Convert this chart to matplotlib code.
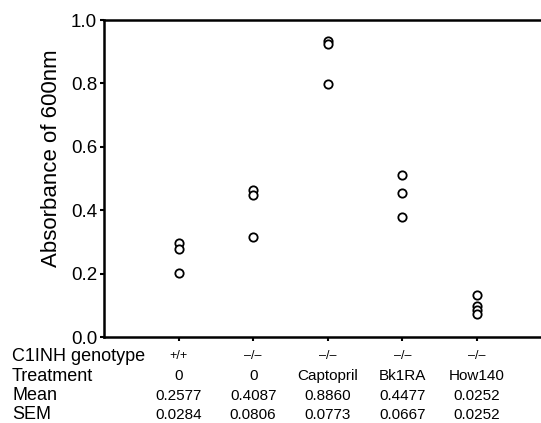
import matplotlib
matplotlib.use("Agg")
import matplotlib.pyplot as plt

plt.rcParams['font.family'] = ['Liberation Sans', 'DejaVu Sans']

# groups / table rows
genotype = ['+/+', '\u2013/\u2013', '\u2013/\u2013', '\u2013/\u2013', '\u2013/\u2013']
treatment = ['0', '0', 'Captopril', 'Bk1RA', 'How140']
mean = ['0.2577', '0.4087', '0.8860', '0.4477', '0.0252']
sem = ['0.0284', '0.0806', '0.0773', '0.0667', '0.0252']

# individual absorbance readings per group
g1 = [0.295, 0.277, 0.203]
g2 = [0.463, 0.448, 0.317]
g3 = [0.935, 0.925, 0.797]
g4 = [0.510, 0.454, 0.377]
g5 = [0.134, 0.097, 0.085, 0.074]
groups = [g1, g2, g3, g4, g5]

fig = plt.figure(figsize=(5.41, 4.23), dpi=100)
ax = fig.add_axes([104 / 541, 86 / 423, 1 - 104 / 541, 317 / 423])

for i, vals in enumerate(groups):
    ax.plot([i + 1] * len(vals), vals, 'o', mfc='white', mec='black',
            ms=6, mew=1.3, ls='none', clip_on=False)

ax.set_xlim(0, 5.86)
ax.set_ylim(0, 1.0)
ax.set_yticks([0, 0.2, 0.4, 0.6, 0.8, 1.0])
ax.set_yticklabels(['0.0', '0.2', '0.4', '0.6', '0.8', '1.0'])
ax.set_xticks([1, 2, 3, 4, 5])
ax.set_xticklabels([])
ax.tick_params(direction='out', length=3, width=1.5, labelsize=13.5, pad=2)
ax.spines['right'].set_visible(False)
for s in ['left', 'bottom', 'top']:
    ax.spines[s].set_linewidth(1.8)
ax.set_ylabel('Absorbance of 600nm', fontsize=16)
ax.yaxis.set_label_coords(-0.097, 0.565)

# table under the axis
trans = ax.get_xaxis_transform()
row_y = [-0.060, -0.124, -0.186, -0.246]
rows = [genotype, treatment, mean, sem]
names = ['C1INH genotype', 'Treatment', 'Mean', 'SEM']
sizes = [9, 11, 11, 11]
for r, (vals, name, fs) in enumerate(zip(rows, names, sizes)):
    fig.text(12 / 541, (86 + row_y[r] * 317) / 423, name, fontsize=13,
             ha='left', va='center')
    for i, v in enumerate(vals):
        ax.text(i + 1, row_y[r], v, transform=trans, fontsize=fs,
                ha='center', va='center')

fig.savefig('out.png', dpi=100)
